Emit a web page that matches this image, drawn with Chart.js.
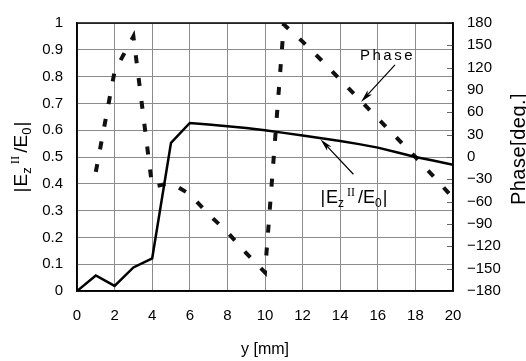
<!DOCTYPE html>
<html>
<head>
<meta charset="utf-8">
<script src="https://cdn.jsdelivr.net/npm/chart.js@4.4.0/dist/chart.umd.min.js"></script>
<style>
  html, body { margin: 0; padding: 0; background: #fff; }
</style>
</head>
<body>
<canvas id="myChart" width="526" height="361"></canvas>
<script>
// y position [mm]
const yPos = [0, 1, 2, 3, 4, 5, 6, 7, 8, 9, 10, 11, 12, 13, 14, 15, 16, 17, 18, 19, 20];
// |Ez II / E0|
const ezRatio = [0, 0.058, 0.019, 0.088, 0.122, 0.553, 0.627, 0.621, 0.615, 0.608, 0.600,
                 0.590, 0.580, 0.570, 0.560, 0.548, 0.535, 0.518, 0.500, 0.486, 0.471];
// phase [deg.], no value at y = 0
const phaseDeg = [null, -20, 115, 162, -40, -35, -50, -77, -101, -129, -155,
                  178, 155, 130, 104, 78, 52, 26, 0, -27, -55];

const xTicks = { min: 0, max: 20, step: 2 };
const ratioTicks = { min: 0, max: 1, step: 0.1 };
const phaseTicks = { min: -180, max: 180, step: 30 };

const sans = '"Liberation Sans", Arial, sans-serif';
const serif = '"Liberation Serif", "Times New Roman", serif';

function drawRich(ctx, runs, x, y, align) {
    let w = 0;
    runs.forEach(r => {
        ctx.font = r.font;
        w += (r.gap || 0) + ctx.measureText(r.t).width;
    });
    let cx = align === 'center' ? x - w / 2 : x;
    runs.forEach(r => {
        ctx.font = r.font;
        cx += r.gap || 0;
        ctx.fillText(r.t, cx, y + (r.dy || 0));
        cx += ctx.measureText(r.t).width;
    });
}

function ratioRuns(size) {
    const small = Math.round(size * 0.68);
    return [
        { t: '|', font: size + 'px ' + sans },
        { t: 'E', font: size + 'px ' + sans, gap: 1 },
        { t: 'z', font: small + 'px ' + sans, dy: size * 0.2 },
        { t: 'II', font: small + 'px ' + serif, dy: -size * 0.42, gap: 3 },
        { t: '/', font: size + 'px ' + sans, gap: 3 },
        { t: 'E', font: size + 'px ' + sans },
        { t: '0', font: small + 'px ' + sans, dy: size * 0.2 },
        { t: '|', font: size + 'px ' + sans, gap: 1 }
    ];
}

function drawArrow(ctx, x1, y1, x2, y2) {
    const ang = Math.atan2(y2 - y1, x2 - x1);
    const len = 13, half = 3;
    ctx.beginPath();
    ctx.moveTo(x1, y1);
    ctx.lineTo(x2 - Math.cos(ang) * len * 0.6, y2 - Math.sin(ang) * len * 0.6);
    ctx.lineWidth = 1.2;
    ctx.strokeStyle = '#000';
    ctx.stroke();
    ctx.beginPath();
    ctx.moveTo(x2, y2);
    ctx.lineTo(x2 - Math.cos(ang) * len - Math.sin(ang) * half, y2 - Math.sin(ang) * len + Math.cos(ang) * half);
    ctx.lineTo(x2 - Math.cos(ang) * len * 0.75, y2 - Math.sin(ang) * len * 0.75);
    ctx.lineTo(x2 - Math.cos(ang) * len + Math.sin(ang) * half, y2 - Math.sin(ang) * len - Math.cos(ang) * half);
    ctx.closePath();
    ctx.fillStyle = '#000';
    ctx.fill();
}

const extras = {
    id: 'extras',
    beforeDatasetsDraw(chart) {
        const ctx = chart.ctx;
        const a = chart.chartArea;
        const y2 = chart.scales.y2;
        ctx.save();
        // small inner ticks for the phase axis
        ctx.strokeStyle = '#666';
        ctx.lineWidth = 1;
        for (let v = phaseTicks.min; v <= phaseTicks.max; v += phaseTicks.step) {
            const py = Math.round(y2.getPixelForValue(v)) + 0.5;
            ctx.beginPath();
            ctx.moveTo(a.right - 6, py);
            ctx.lineTo(a.right, py);
            ctx.stroke();
        }
        // frame
        ctx.strokeStyle = '#000';
        ctx.lineWidth = 1.5;
        ctx.strokeRect(a.left, a.top, a.right - a.left, a.bottom - a.top);
        ctx.restore();
    },
    afterDraw(chart) {
        const ctx = chart.ctx;
        const a = chart.chartArea;
        const xs = chart.scales.x, ys = chart.scales.y, y2 = chart.scales.y2;
        ctx.save();
        ctx.fillStyle = '#000';
        ctx.textBaseline = 'alphabetic';

        // left axis title
        ctx.save();
        ctx.translate(27, (a.top + a.bottom) / 2);
        ctx.rotate(-Math.PI / 2);
        drawRich(ctx, ratioRuns(19), 0, 0, 'center');
        ctx.restore();

        // right axis title
        ctx.save();
        ctx.translate(525, (a.top + a.bottom) / 2 - 8);
        ctx.rotate(-Math.PI / 2);
        ctx.font = '20px ' + sans;
        ctx.letterSpacing = '0.5px';
        ctx.textAlign = 'center';
        ctx.fillText('Phase[deg.]', 0, 0);
        ctx.restore();

        // "Phase" callout
        const pTipX = xs.getPixelForValue(yPos[15]) + 2;
        const pTipY = y2.getPixelForValue(phaseDeg[15]) + 3;
        drawArrow(ctx, pTipX + 34, pTipY - 37, pTipX, pTipY);
        ctx.font = '15px ' + sans;
        ctx.letterSpacing = '2.5px';
        ctx.textAlign = 'left';
        ctx.fillText('Phase', pTipX - 1, pTipY - 42);
        ctx.letterSpacing = '0px';

        // |Ez/E0| callout
        const rTipX = xs.getPixelForValue(yPos[13]) - 1;
        const rTipY = ys.getPixelForValue(ezRatio[13]) + 1;
        drawArrow(ctx, rTipX + 33, rTipY + 35, rTipX, rTipY);
        drawRich(ctx, ratioRuns(18), rTipX, rTipY + 64, 'left');
        ctx.restore();
    }
};

const tickFont = { family: sans, size: 15 };

new Chart(document.getElementById('myChart'), {
    type: 'line',
    data: {
        datasets: [
            {
                label: '|Ez II/E0|',
                data: yPos.map((y, i) => ({ x: y, y: ezRatio[i] })),
                borderColor: '#000',
                borderWidth: 2.5,
                pointRadius: 0,
                tension: 0,
                yAxisID: 'y'
            },
            {
                label: 'Phase',
                data: yPos.map((y, i) => ({ x: y, y: phaseDeg[i] })),
                borderColor: '#111',
                borderWidth: 4,
                borderDash: [8, 15],
                pointRadius: 0,
                tension: 0,
                yAxisID: 'y2'
            }
        ]
    },
    options: {
        responsive: false,
        animation: false,
        layout: { padding: { top: 15, left: 0, right: 0, bottom: 0 } },
        plugins: { legend: { display: false }, tooltip: { enabled: false } },
        scales: {
            x: {
                type: 'linear',
                min: xTicks.min,
                max: xTicks.max,
                ticks: { stepSize: xTicks.step, padding: 16, color: '#000', font: tickFont, maxRotation: 0 },
                grid: { color: '#8c8c8c', lineWidth: 1, drawTicks: false },
                border: { color: '#000', width: 1.5 },
                title: { display: true, text: 'y [mm]', color: '#000', font: { family: sans, size: 16 }, padding: { top: 0, bottom: 2 } },
                afterFit: s => { s.height = 70; }
            },
            y: {
                position: 'left',
                min: ratioTicks.min,
                max: ratioTicks.max,
                ticks: {
                    stepSize: ratioTicks.step, padding: 14, color: '#000', font: tickFont,
                    callback: v => String(Number(v.toFixed(1)))
                },
                grid: { color: '#8c8c8c', lineWidth: 1, drawTicks: false },
                border: { color: '#000', width: 1.5 },
                afterFit: s => { s.width = 77; }
            },
            y2: {
                position: 'right',
                min: phaseTicks.min,
                max: phaseTicks.max,
                ticks: {
                    stepSize: phaseTicks.step, padding: 14, color: '#000', font: tickFont,
                    callback: v => String(v).replace('-', '\u2212')
                },
                grid: { drawOnChartArea: false, drawTicks: false },
                border: { color: '#000', width: 1.5 },
                afterFit: s => { s.width = 73; }
            }
        }
    },
    plugins: [extras]
});
</script>
</body>
</html>
